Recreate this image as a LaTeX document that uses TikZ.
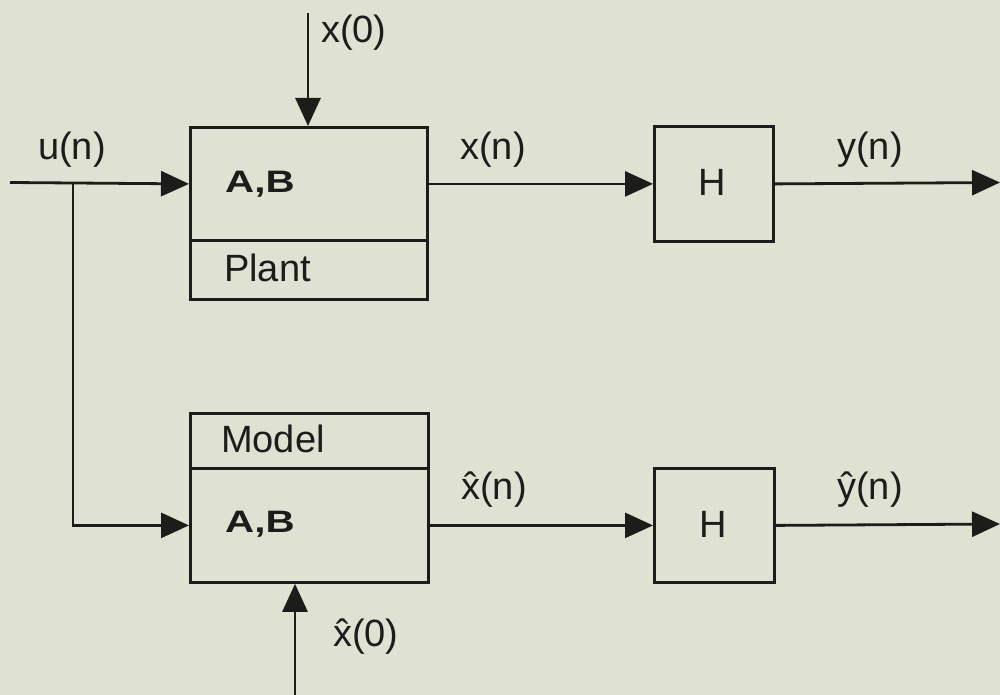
\documentclass[tikz,border=0pt]{standalone}
\usepackage{fontspec}
\setmainfont{Liberation Sans}
\usetikzlibrary{arrows.meta}
\definecolor{paper}{RGB}{223,225,211}
\definecolor{ink}{RGB}{28,28,26}
\begin{document}
\begin{tikzpicture}[x=1pt,y=-1pt,
  box/.style={draw=ink,line width=2.8pt,inner sep=0pt,anchor=north west},
  sig/.style={draw=ink,line width=2.8pt,-{Triangle[length=28pt,width=25pt]}},
  lbl/.style={text=ink,inner sep=0pt,font=\fontsize{38}{40}\selectfont},
  blbl/.style={text=ink,inner sep=0pt,font=\fontsize{31}{36}\selectfont\bfseries}]
\fill[paper] (0,0) rectangle (1000,695);
\useasboundingbox (0,0) rectangle (1000,695);
% blocks
\node[box,minimum width=237pt,minimum height=113pt] (plantAB) at (189,126) {};
\node[box,minimum width=237pt,minimum height=59pt] (plantlbl) at (189,239) {};
\node[box,minimum width=238pt,minimum height=55pt] (modellbl) at (189,412) {};
\node[box,minimum width=238pt,minimum height=114pt] (modelAB) at (189,467) {};
\node[box,minimum width=119pt,minimum height=115pt] (H1) at (653,125) {};
\node[box,minimum width=120pt,minimum height=114pt] (H2) at (653,467) {};
% texts in blocks
\node[blbl,anchor=west] (tAB1) at (225,184) {\scalebox{1.3}[1]{A,B}};
\node[blbl,anchor=west] (tAB2) at (225,524) {\scalebox{1.3}[1]{A,B}};
\node[lbl,anchor=west] (tplant) at (224,268) {Plant};
\node[lbl,anchor=west] (tmodel) at (221,439) {Model};
\node[lbl] (tH1) at (712,182) {H};
\node[lbl] (tH2) at (713,524) {H};
% free ends
\coordinate (uin) at (10,182.5);
\coordinate (br) at (73,182.5);
\coordinate (x0top) at (308,13);
\coordinate (x0bot) at (295,695);
\coordinate (yout) at (1000,182.5);
\coordinate (yhout) at (1000,524);
% connectors
\draw[sig] (uin) -- (plantAB.west);
\draw[sig] (br) |- (modelAB.west);
\draw[sig] (x0top) -- (x0top |- plantAB.north);
\draw[sig] (x0bot) -- (x0bot |- modelAB.south);
\draw[sig] (plantAB.east) -- (H1.west);
\draw[sig] (modelAB.east) -- (H2.west);
\draw[sig] (H1.east) -- (yout);
\draw[sig] (H2.east) -- (yhout);
% signal labels
\node[lbl] (lu) at (72,150) {u(n)};
\node[lbl,anchor=west] (lx0) at (321,33) {x(0)};
\node[lbl] (lx) at (493,150) {x(n)};
\node[lbl] (ly) at (870,150) {y(n)};
\node[lbl] (lxh) at (494,490) {\^{x}(n)};
\node[lbl] (lyh) at (870,490) {\^{y}(n)};
\node[lbl,anchor=west] (lxh0) at (333,637) {\^{x}(0)};
\end{tikzpicture}
\end{document}
